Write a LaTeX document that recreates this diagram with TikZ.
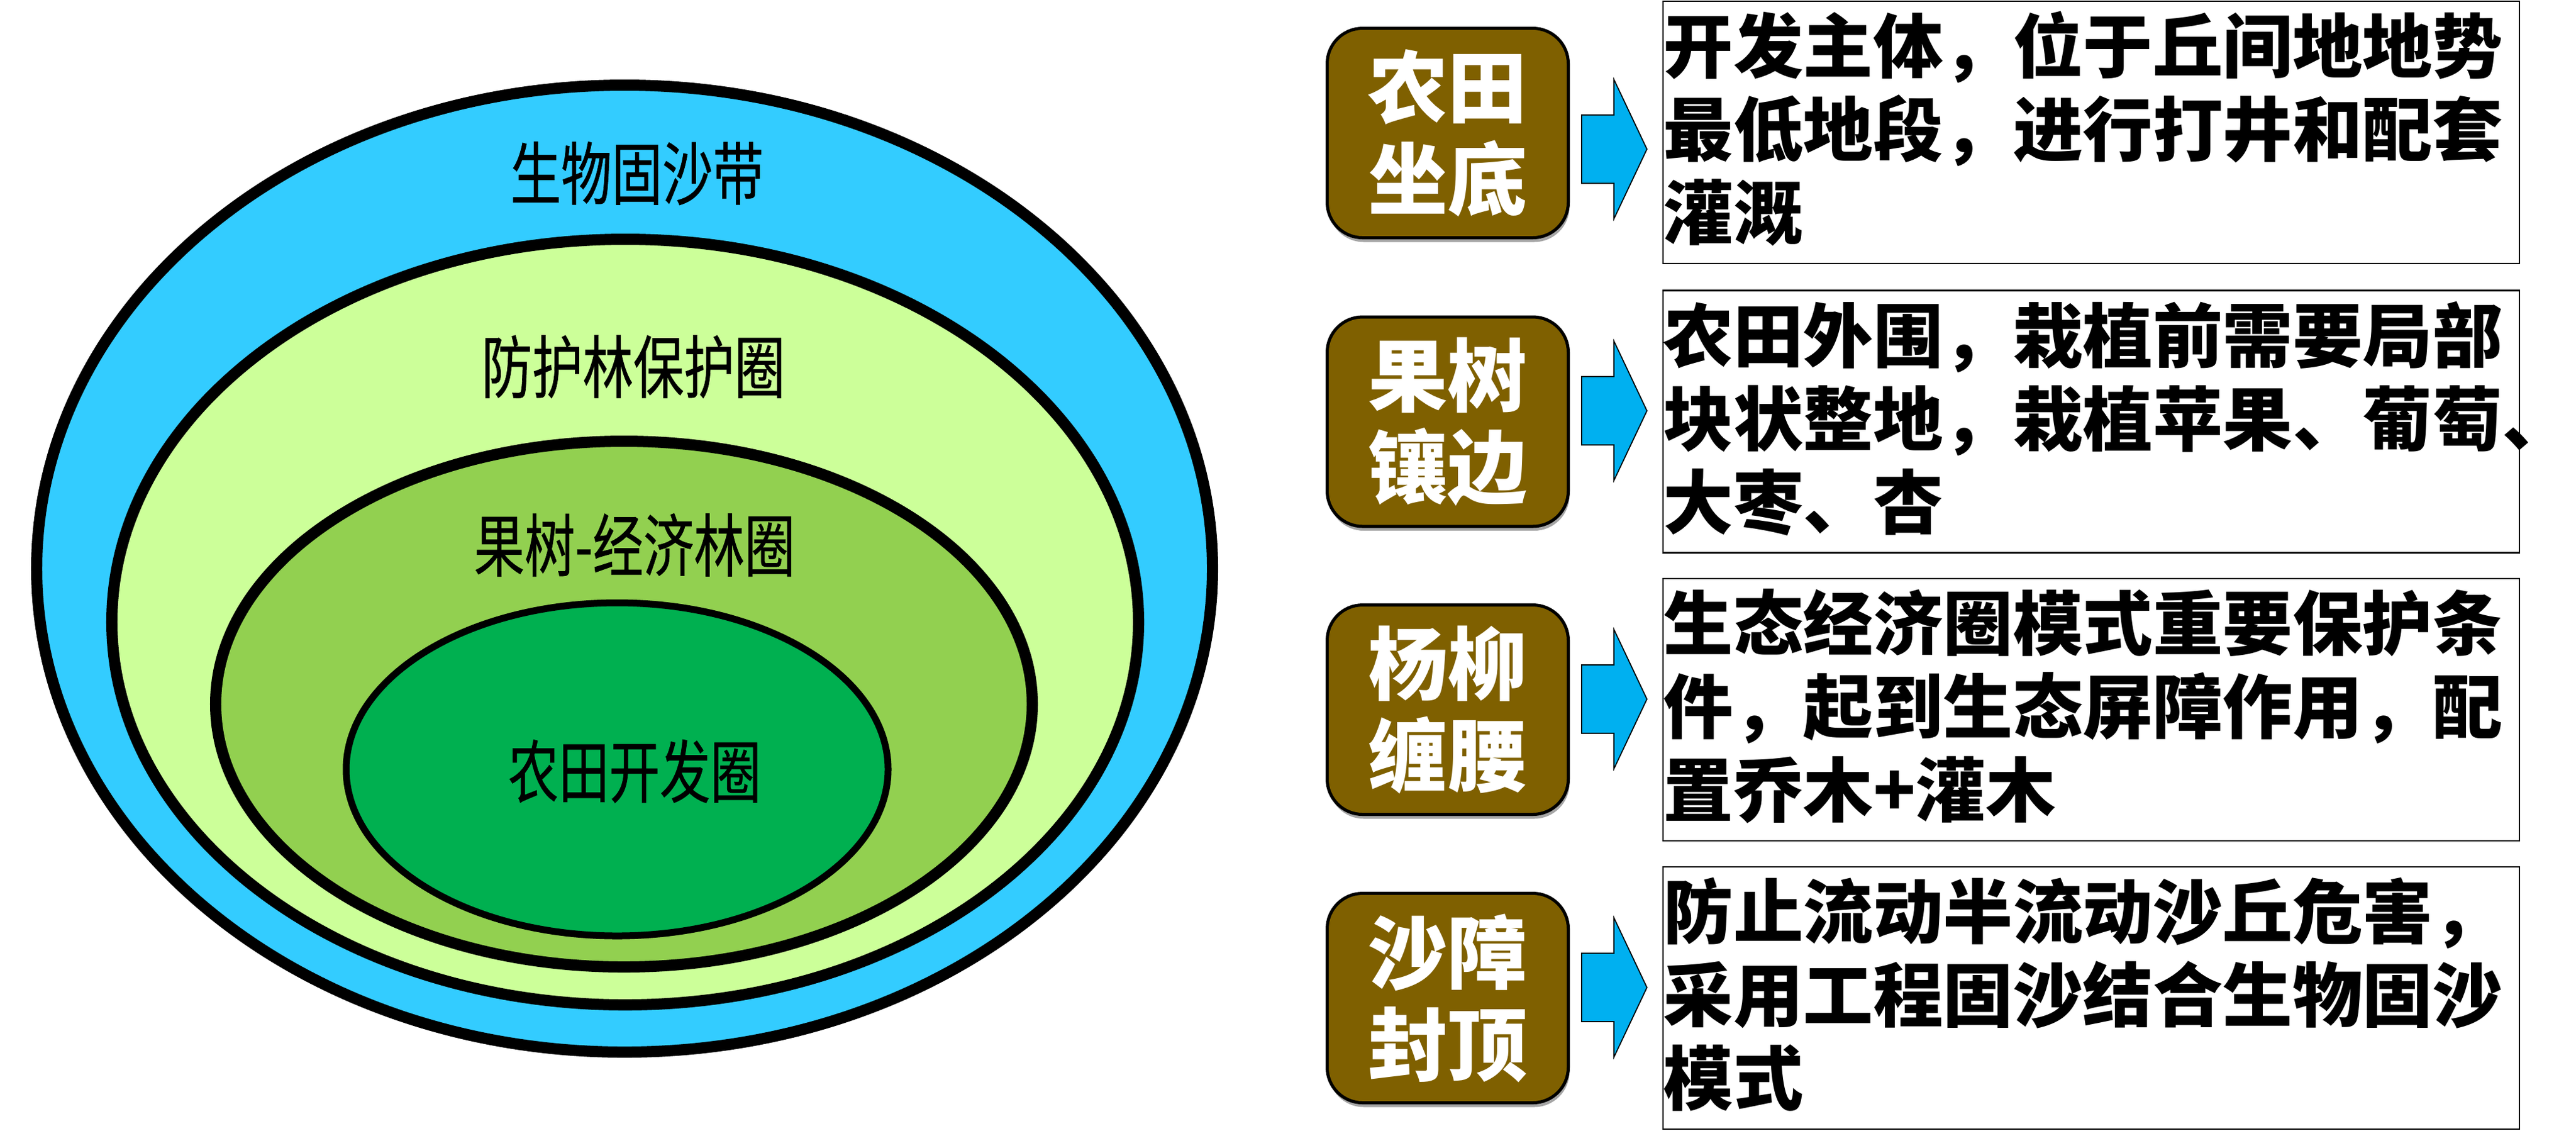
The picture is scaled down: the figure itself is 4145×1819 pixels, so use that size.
\documentclass[tikz,border=0pt]{standalone}
\usepackage{fontspec}
\newfontfamily\cjk{Noto Sans CJK SC}
\newfontfamily\cjknarrow[FakeStretch=0.74,FakeBold=0.6]{Noto Sans CJK SC}
\usetikzlibrary{calc,shadows}
\definecolor{bandblue}{HTML}{33CCFF}
\definecolor{lightgreen}{HTML}{CCFF99}
\definecolor{midgreen}{HTML}{92D050}
\definecolor{darkgreen}{HTML}{00B050}
\definecolor{olivebrown}{HTML}{7F6000}
\definecolor{arrowblue}{HTML}{00B0F0}
\tikzset{
  ring/.style={draw=black, line width=3.6pt},
  ringlabel/.style={inner sep=0pt, font=\cjknarrow\fontsize{22}{26}\selectfont, text=black},
  headbox/.style={draw=black, line width=1pt, fill=olivebrown, rounded corners=11.4pt,
    minimum width=77.6pt, minimum height=67.4pt, inner sep=0pt, align=center, text=white,
    font=\cjk\bfseries\fontsize{25.6}{29.6}\selectfont,
    drop shadow={shadow xshift=0.4pt, shadow yshift=-1.4pt, opacity=0.35, fill=black}},
  textbox/.style={draw=black, line width=0.45pt, minimum width=275.6pt, minimum height=84.4pt, inner sep=0pt},
  textline/.style={anchor=base west, inner sep=0pt, font=\cjk\bfseries\fontsize{22.5}{26.8}\selectfont, text=black},
  bigarrow/.style={draw=black, line width=0.35pt, fill=arrowblue}
}
\begin{document}
\begin{tikzpicture}[x=0.2pt,y=-0.2pt]
\useasboundingbox (0,0) rectangle (4145,1819);

% nested ellipses
\draw[ring, fill=bandblue] (1005,915) ellipse [x radius=189.2pt, y radius=155.6pt];
\draw[ring, fill=lightgreen] (1006,1001) ellipse [x radius=165.2pt, y radius=123.2pt];
\draw[ring, fill=midgreen] (1004,1133) ellipse [x radius=131.4pt, y radius=84.6pt];
\draw[ring, line width=2.2pt, fill=darkgreen] (993,1238) ellipse [x radius=87.2pt, y radius=53.6pt];

\node[ringlabel] (l1) at (1025,279) {生物固沙带};
\node[ringlabel] (l2) at (1019,590) {防护林保护圈};
\node[ringlabel] (l3) at (1021,877) {果树-经济林圈};
\node[ringlabel] (l4) at (1021,1241) {农田开发圈};

% heading boxes
\node[headbox] (b1) at (2329.5,214) {农田\\坐底};
\node[headbox] (b2) at (2329.5,678.5) {果树\\镶边};
\node[headbox] (b3) at (2329.5,1142) {杨柳\\缠腰};
\node[headbox] (b4) at (2329.5,1606) {沙障\\封顶};

% text boxes
\node[textbox] (t1) at (3365,213) {};
\node[textbox] (t2) at (3365,678.5) {};
\node[textbox] (t3) at (3365,1142) {};
\node[textbox] (t4) at (3365,1606) {};

\node[textline] (t1a) at ($(t1.north west)+(1,116)$) {开发主体，位于丘间地地势};
\node[textline] (t1b) at ($(t1.north west)+(1,250)$) {最低地段，进行打井和配套};
\node[textline] (t1c) at ($(t1.north west)+(1,384)$) {灌溉};

\node[textline] (t2a) at ($(t2.north west)+(1,116)$) {农田外围，栽植前需要局部};
\node[textline] (t2b) at ($(t2.north west)+(1,250)$) {块状整地，栽植苹果、葡萄、};
\node[textline] (t2c) at ($(t2.north west)+(1,384)$) {大枣、杏};

\node[textline] (t3a) at ($(t3.north west)+(1,116)$) {生态经济圈模式重要保护条};
\node[textline] (t3b) at ($(t3.north west)+(1,250)$) {件，起到生态屏障作用，配};
\node[textline] (t3c) at ($(t3.north west)+(1,384)$) {置乔木+灌木};

\node[textline] (t4a) at ($(t4.north west)+(1,116)$) {防止流动半流动沙丘危害，};
\node[textline] (t4b) at ($(t4.north west)+(1,250)$) {采用工程固沙结合生物固沙};
\node[textline] (t4c) at ($(t4.north west)+(1,384)$) {模式};

% block arrows
\coordinate (a1) at (2597,240);
\coordinate (a2) at (2597,661);
\coordinate (a3) at (2597,1125);
\coordinate (a4) at (2597,1589);
\foreach \a in {a1,a2,a3,a4}{
  \draw[bigarrow] (\a) ++(-52,-55) -- ++(52,0) -- ++(0,-57) -- ++(53,112)
    -- ++(-53,112) -- ++(0,-57) -- ++(-52,0) -- cycle;
}
\end{tikzpicture}
\end{document}
